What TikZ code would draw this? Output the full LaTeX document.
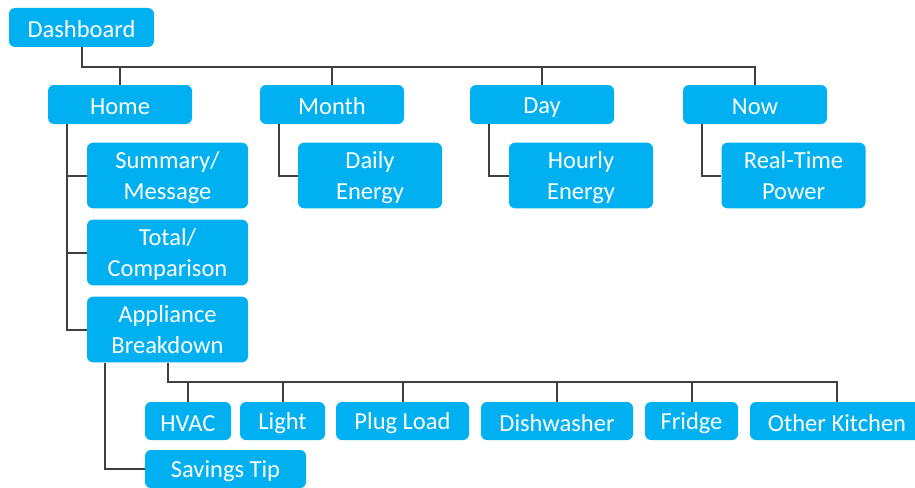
\documentclass[tikz,border=0pt]{standalone}
\usepackage{fontspec}
\setmainfont{Carlito}
\definecolor{boxblue}{HTML}{00B0F0}
\definecolor{linegray}{HTML}{404040}
\newcommand\mystrut{\rule[-1pt]{0pt}{22pt}}
\newcommand\twoline[2]{\begin{tabular}{@{}c@{}}\rule{0pt}{25.3pt}#1\\#2\end{tabular}}
\tikzset{
  boxbase/.style={draw=none, fill=boxblue, rounded corners=6pt, text=white,
    inner sep=0pt, font=\fontsize{24.5}{31}\selectfont},
  onebox/.style={boxbase, minimum height=39pt,
    execute at begin node=\mystrut, execute at end node=\mystrut},
  twobox/.style={boxbase, minimum height=65pt},
  conn/.style={draw=linegray, line width=2pt}
}
\begin{document}
\begin{tikzpicture}[x=1pt,y=-1pt]
\useasboundingbox (0,0) rectangle (915,487);
% level 0
\node[onebox, minimum width=145pt] (dash) at (81.5,27.5) {Dashboard};
% level 1
\node[onebox, minimum width=144pt] (home) at (120,104.5) {Home};
\node[onebox, minimum width=144pt] (month) at (332,104.5) {Month};
\node[onebox, minimum width=144pt] (day) at (542,104.5) {Day};
\node[onebox, minimum width=144pt] (now) at (755,104.5) {Now};
% level 2
\node[twobox, minimum width=161pt] (sum) at (167.5,175.5) {\twoline{Summary/}{Message}};
\node[twobox, minimum width=161pt] (total) at (167.5,252.5) {\twoline{Total/}{Comparison}};
\node[twobox, minimum width=161pt] (appl) at (167.5,329.5) {\twoline{Appliance}{Breakdown}};
\node[twobox, minimum width=144pt] (daily) at (370,175.5) {\twoline{Daily}{Energy}};
\node[twobox, minimum width=144pt] (hourly) at (581,175.5) {\twoline{Hourly}{Energy}};
\node[twobox, minimum width=144pt] (rt) at (793.5,175.5) {\twoline{Real-Time}{Power}};
% level 3
\node[onebox, minimum width=86pt, minimum height=38pt] (hvac) at (188,421) {HVAC};
\node[onebox, minimum width=85pt, minimum height=38pt] (light) at (282.5,421) {Light};
\node[onebox, minimum width=133pt, minimum height=38pt] (plug) at (402.5,421) {Plug Load};
\node[onebox, minimum width=152pt, minimum height=38pt] (dish) at (557,421) {Dishwasher};
\node[onebox, minimum width=93pt, minimum height=38pt] (fridge) at (691.5,421) {Fridge};
\node[onebox, minimum width=174pt, minimum height=38pt] (other) at (837,421) {Other Kitchen};
\node[onebox, minimum width=161pt, minimum height=38pt] (sav) at (225.5,469) {Savings Tip};
% connectors: dashboard bus
\draw[conn] (dash.south) -- (dash.south |- 0,67) -| (now.north);
\draw[conn] (home.north) -- (home.north |- 0,67);
\draw[conn] (month.north) -- (month.north |- 0,67);
\draw[conn] (day.north) -- (day.north |- 0,67);
% home children
\draw[conn] ([xshift=19pt]home.south west) |- (sum.west);
\draw[conn] ([xshift=19pt]home.south west) |- (total.west);
\draw[conn] ([xshift=19pt]home.south west) |- (appl.west);
% month/day/now children
\draw[conn] ([xshift=19pt]month.south west) |- (daily.west);
\draw[conn] ([xshift=19pt]day.south west) |- (hourly.west);
\draw[conn] ([xshift=19pt]now.south west) |- (rt.west);
% appliance bus
\draw[conn] (appl.south) -- (appl.south |- 0,382) -| (other.north);
\draw[conn] (hvac.north) -- (hvac.north |- 0,382);
\draw[conn] (light.north) -- (light.north |- 0,382);
\draw[conn] (plug.north) -- (plug.north |- 0,382);
\draw[conn] (dish.north) -- (dish.north |- 0,382);
\draw[conn] (fridge.north) -- (fridge.north |- 0,382);
% savings tip
\draw[conn] ([xshift=18pt]appl.south west) |- (sav.west);
\end{tikzpicture}
\end{document}
